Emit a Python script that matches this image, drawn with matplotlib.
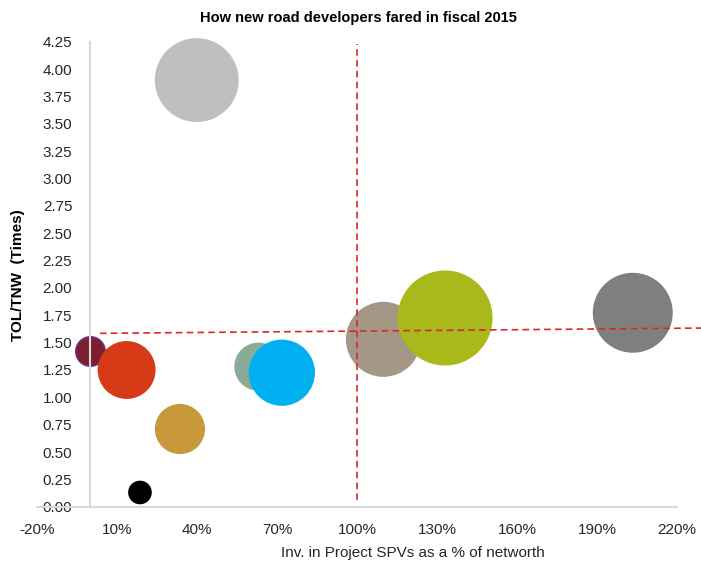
import matplotlib
matplotlib.use("Agg")
import matplotlib.pyplot as plt
from matplotlib.ticker import FuncFormatter

plt.rcParams['font.family'] = ['Liberation Sans', 'DejaVu Sans']

# investment in project SPVs (% of networth), TOL/TNW (times), bubble size
inv_spv = [39.9, 0.0, 13.6, 33.6, 18.6, 63.0, 71.8, 109.9, 133.0, 203.4]
tol_tnw = [3.90, 1.42, 1.25, 0.71, 0.13, 1.28, 1.225, 1.53, 1.725, 1.773]
bubble = [17.6, 2.2, 8.4, 6.3, 1.4, 5.8, 11.0, 14.1, 22.6, 16.0]
colors = ['#bfbfbf', '#7b1f2b', '#d63a16', '#c8993b', '#000000',
          '#8aab98', '#00b0f0', '#a59786', '#a9b81a', '#7f7f7f']
edges = ['none', '#7030a0', 'none', 'none', 'none',
         'none', 'none', 'none', 'none', 'none']

# reference lines
avg_inv = 100
avg_tol_x = [3.6, 229]
avg_tol_y = [1.585, 1.633]

xticks = list(range(-20, 221, 30))
yticks = [i * 0.25 for i in range(18)]

fig = plt.figure(figsize=(7.01, 5.65), dpi=100)
ax = fig.add_axes([0.0528, 0.1032, 0.913, 0.8228])

for x, y, b, c, e in zip(inv_spv, tol_tnw, bubble, colors, edges):
    ax.scatter(x, y, s=b * 207, color=c, edgecolors=e,
               linewidths=1.0 if e != 'none' else 0, zorder=2, clip_on=False)

ax.plot([avg_inv, avg_inv], [0.06, 4.23], color='#d7282f', lw=1.2, ls=(0, (4, 2.5)), zorder=3)
ax.plot(avg_tol_x, avg_tol_y, color='#d7282f', lw=1.2, ls=(0, (4, 2.5)), zorder=3, clip_on=False)

ax.set_xlim(-20, 220)
ax.set_ylim(0, 4.25)
ax.set_xticks(xticks)
ax.set_yticks(yticks)
ax.xaxis.set_major_formatter(FuncFormatter(lambda v, p: f"{v:.0f}%"))
ax.yaxis.set_major_formatter(FuncFormatter(lambda v, p: f"{v:.2f}"))
ax.tick_params(length=0, labelsize=11, labelcolor='#262626')
ax.tick_params(axis='y', pad=13)
ax.tick_params(axis='x', pad=12)

for s in ['top', 'right']:
    ax.spines[s].set_visible(False)
ax.spines['left'].set_position(('data', 0))
for s in ['left', 'bottom']:
    ax.spines[s].set_color('#d9d9d9')
    ax.spines[s].set_linewidth(1.5)

fig.text(0.512, 0.968, 'How new road developers fared in fiscal 2015', ha='center', va='center',
         fontsize=10.5, fontweight='bold', color='#000000')
fig.text(0.589, 0.021, 'Inv. in Project SPVs as a % of networth', ha='center', va='center',
         fontsize=11, color='#262626')
fig.text(0.025, 0.513, 'TOL/TNW  (Times)', ha='center', va='center', rotation=90,
         fontsize=11, fontweight='bold', color='#000000')

fig.savefig('out.png', dpi=100)
